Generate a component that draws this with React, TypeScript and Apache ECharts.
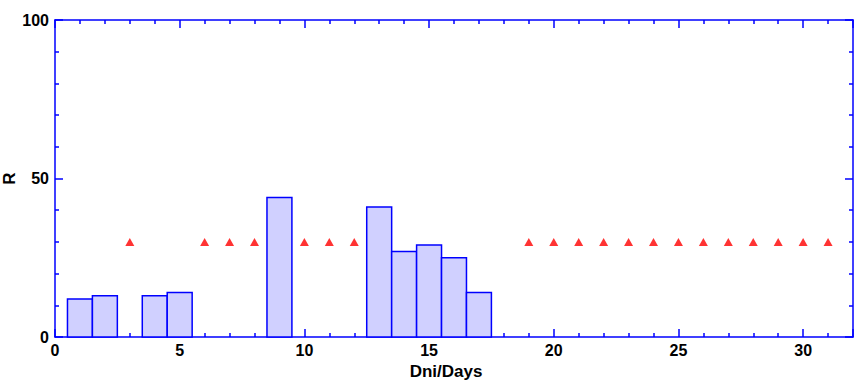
import React, { useEffect, useRef } from "react";
import * as echarts from "echarts";

const barDays = [1, 2, 4, 5, 9, 13, 14, 15, 16, 17];
const barValues = [12, 13, 13, 14, 44, 41, 27, 29, 25, 14];
const markerDays = [3, 6, 7, 8, 10, 11, 12, 19, 20, 21, 22, 23, 24, 25, 26, 27, 28, 29, 30, 31];
const markerValues = [30, 30, 30, 30, 30, 30, 30, 30, 30, 30, 30, 30, 30, 30, 30, 30, 30, 30, 30, 30];
const xTitle = "Dni/Days";
const yTitle = "R";

const BLUE = "#0000ff";
const FONT = "Liberation Sans, Arial, sans-serif";

export default function App() {
  const ref = useRef<HTMLDivElement>(null);
  useEffect(() => {
    if (!ref.current) return;
    const chart = echarts.init(ref.current, null, { renderer: "svg" });
    const tickCommon = {
      axisLine: { show: true, onZero: false, lineStyle: { color: BLUE, width: 1.5 } },
      axisTick: { show: true, inside: true, length: 8, lineStyle: { color: BLUE, width: 1.5 } },
      minorTick: { show: true, splitNumber: 5, length: 4, lineStyle: { color: BLUE, width: 1.5 } },
      splitLine: { show: false },
    };
    const labelStyle = { color: "#000", fontSize: 16, fontWeight: "bold" as const, fontFamily: FONT };
    chart.setOption({
      animation: false,
      backgroundColor: "#fff",
      grid: { left: 55, top: 20, right: 2, bottom: 45, containLabel: false, outerBoundsMode: "none" },
      xAxis: [
        {
          type: "value",
          min: 0,
          max: 32,
          interval: 5,
          position: "bottom",
          ...tickCommon,
          axisLabel: { ...labelStyle, margin: 5, showMaxLabel: false },
          name: xTitle,
          nameLocation: "middle",
          nameGap: 24,
          nameTextStyle: { ...labelStyle, fontSize: 17, padding: [0, 16, 0, 0] },
        },
        {
          type: "value",
          min: 0,
          max: 32,
          interval: 5,
          position: "top",
          ...tickCommon,
          axisLabel: { show: false },
        },
      ],
      yAxis: [
        {
          type: "value",
          min: 0,
          max: 100,
          interval: 50,
          position: "left",
          ...tickCommon,
          axisLabel: { ...labelStyle, margin: 6 },
          name: yTitle,
          nameLocation: "middle",
          nameGap: 37,
          nameMoveOverlap: false,
          nameTextStyle: { ...labelStyle, fontSize: 17 },
        },
        {
          type: "value",
          min: 0,
          max: 100,
          interval: 50,
          position: "right",
          ...tickCommon,
          axisLabel: { show: false },
        },
      ],
      series: [
        {
          type: "custom",
          xAxisIndex: 0,
          yAxisIndex: 0,
          data: barDays.map((d, i) => [d, barValues[i]]),
          renderItem: (params: any, api: any) => {
            const x = api.value(0);
            const y = api.value(1);
            const p0 = api.coord([x - 0.5, 0]);
            const p1 = api.coord([x + 0.5, y]);
            return {
              type: "rect",
              shape: { x: p0[0], y: p1[1], width: p1[0] - p0[0], height: p0[1] - p1[1] },
              style: { fill: "#d0d0ff", stroke: BLUE, lineWidth: 1.5 },
            };
          },
          z: 2,
        },
        {
          type: "scatter",
          xAxisIndex: 0,
          yAxisIndex: 0,
          symbol: "triangle",
          symbolSize: [9, 8],
          itemStyle: { color: "#ff0000" },
          data: markerDays.map((d, i) => [d, markerValues[i]]),
          z: 3,
        },
      ],
    });
    return () => chart.dispose();
  }, []);
  return (
    <div
      ref={ref}
      style={{ position: "fixed", left: 0, top: 0, width: 855, height: 382 }}
    />
  );
}
